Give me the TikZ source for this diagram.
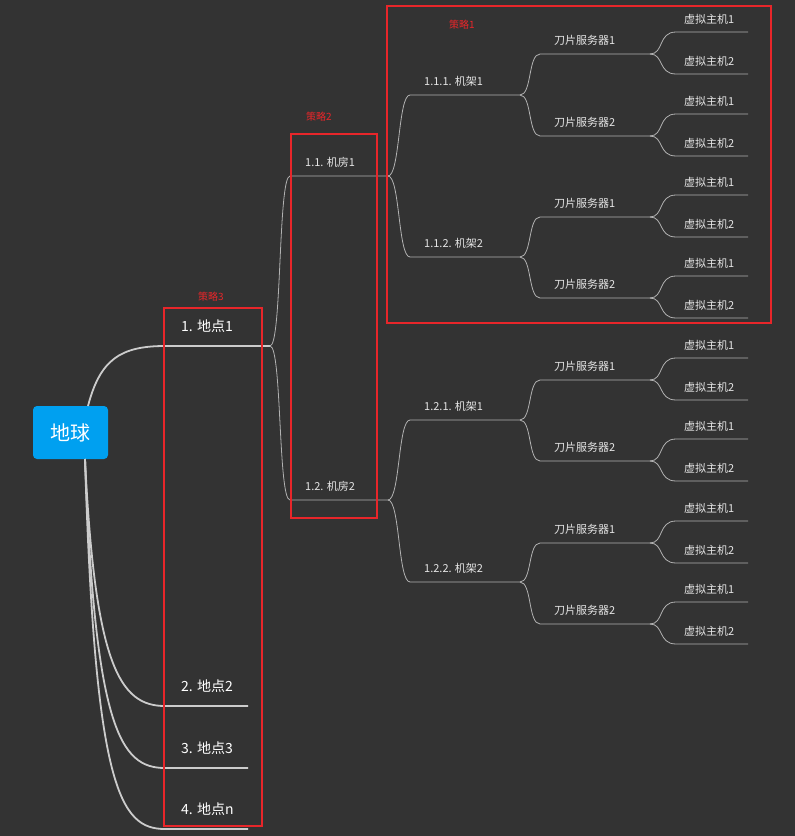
\documentclass[tikz,border=0pt]{standalone}
\usepackage{fontspec}
\setmainfont{Noto Sans CJK SC}
\definecolor{bg}{HTML}{333333}
\definecolor{rootc}{HTML}{00A0F0}
\definecolor{strat}{HTML}{E8262A}
\begin{document}
\begin{tikzpicture}[x=1pt,y=-1pt,
  lab/.style={anchor=west,text=white!90!black,font=\fontsize{11}{12}\selectfont,inner sep=0},
  lab1/.style={anchor=west,text=white,font=\fontsize{14}{16}\selectfont,inner sep=0},
  ln/.style={draw=white!70!black,line width=0.8pt},
  ln1/.style={draw=white!80!black,line width=1.8pt},
  box/.style={draw=strat,line width=2.4pt},
  st/.style={text=strat,font=\fontsize{10}{11}\selectfont,inner sep=0}]
\fill[bg] (0,0) rectangle (795,836);
\useasboundingbox (0,0) rectangle (795,836);
% root
\node[fill=rootc,rounded corners=4pt,minimum width=75,minimum height=53,text=white,font=\fontsize{20}{22}\selectfont] (root) at (70.5,432.5) {地球};
% level 1
\coordinate (r1) at (88,406);
\coordinate (r2) at (85,459);
\coordinate (a1s) at (165,346); \coordinate (a1e) at (270,346);
\draw[ln1] (r1) .. controls (100,360) and (120,346) .. (a1s) -- (a1e);
\node[lab1] (t1) at (181,326) {1. 地点1};
\foreach \y/\t/\n in {706/2. 地点2/2,768/3. 地点3/3,829/4. 地点n/4}{
  \coordinate (a\n s) at (165,\y); \coordinate (a\n e) at (248,\y);
  \draw[ln1] (r2) .. controls (95,\y-40) and (120,\y) .. (a\n s) -- (a\n e);
  \node[lab1] (t\n) at (181,\y-20) {\t};
}
% level 2
\foreach \y/\t/\n in {176/1.1. 机房1/1,500/1.2. 机房2/2}{
  \coordinate (b\n s) at (290,\y); \coordinate (b\n e) at (388,\y);
  \draw[ln] (a1e) .. controls (282,346) and (278,\y) .. (b\n s) -- (b\n e);
  \node[lab] (u\n) at (305,\y-14) {\t};
}
% level 3
\foreach \p/\py/\y/\t/\n in {1/176/95/1.1.1. 机架1/1,1/176/257/1.1.2. 机架2/2,2/500/420/1.2.1. 机架1/3,2/500/582/1.2.2. 机架2/4}{
  \coordinate (c\n s) at (410,\y); \coordinate (c\n e) at (520,\y);
  \draw[ln] (b\p e) .. controls (400,\py) and (398,\y) .. (c\n s) -- (c\n e);
  \node[lab] (v\n) at (424,\y-14) {\t};
}
% level 4
\foreach \p/\py/\y/\n in {1/95/54/1,1/95/136/2,2/257/217/3,2/257/298/4,3/420/380/5,3/420/461/6,4/582/543/7,4/582/624/8}{
  \pgfmathtruncatemacro{\k}{mod(\n-1,2)+1}
  \coordinate (d\n s) at (540,\y); \coordinate (d\n e) at (650,\y);
  \draw[ln] (c\p e) .. controls (532,\py) and (528,\y) .. (d\n s) -- (d\n e);
  \node[lab] (w\n) at (554,\y-14) {刀片服务器\k};
  \coordinate (e\n a) at (676,\y-22); \coordinate (e\n ae) at (748,\y-22);
  \coordinate (e\n b) at (676,\y+20); \coordinate (e\n be) at (748,\y+20);
  \draw[ln] (d\n e) .. controls (664,\y) and (658,\y-22) .. (e\n a) -- (e\n ae);
  \draw[ln] (d\n e) .. controls (664,\y) and (658,\y+20) .. (e\n b) -- (e\n be);
  \node[lab] (x\n a) at (684,\y-35) {虚拟主机1};
  \node[lab] (x\n b) at (684,\y+7) {虚拟主机2};
}
% strategy boxes
\draw[box] (387,6) rectangle (771,323);
\node[st] (s1) at (462,25) {策略1};
\draw[box] (291,134) rectangle (377,518);
\node[st] (s2) at (319,117) {策略2};
\draw[box] (164,308) rectangle (262,826);
\node[st] (s3) at (211,297) {策略3};
\end{tikzpicture}
\end{document}
